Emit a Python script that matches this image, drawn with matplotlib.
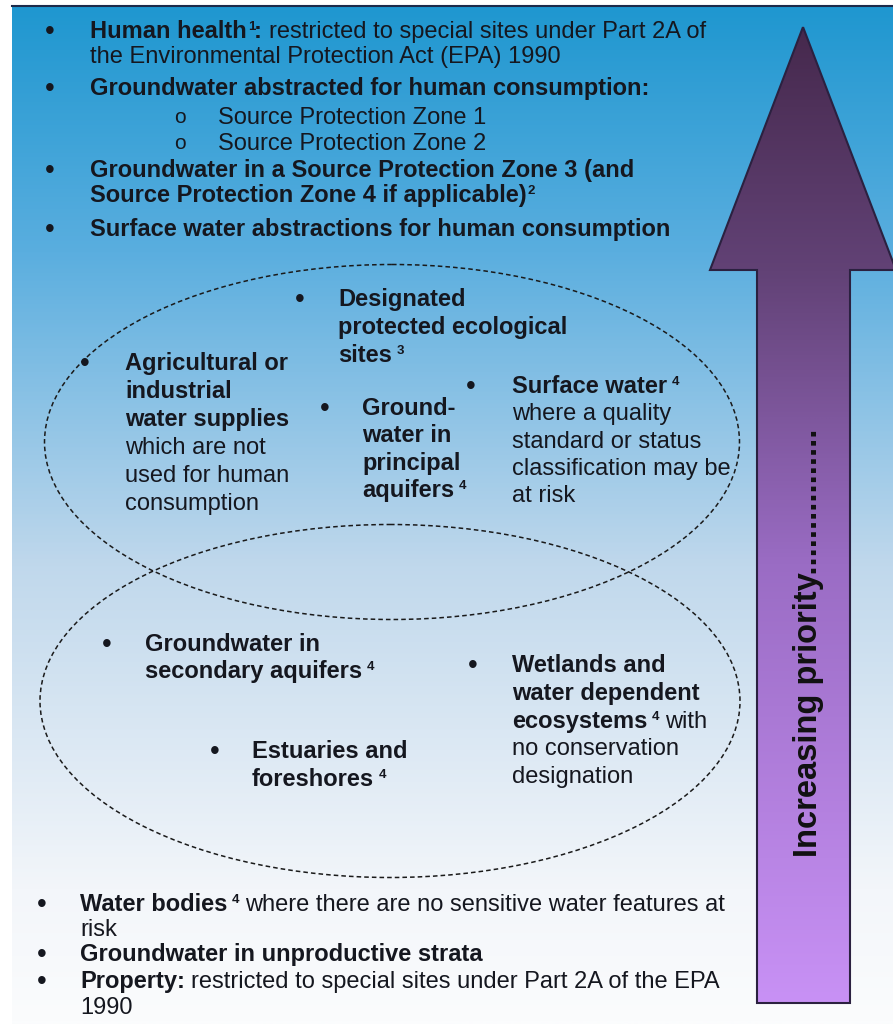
import matplotlib
matplotlib.use("Agg")
import matplotlib.pyplot as plt
import numpy as np
from matplotlib.patches import Ellipse, Polygon, Rectangle
from matplotlib.colors import LinearSegmentedColormap

plt.rcParams['font.family'] = ['Liberation Sans', 'DejaVu Sans']

# text runs: b = bold, r = regular, s = superscript
top_lines = [
    [("Human health", "b"), ("1", "s"), (":", "b"), (" restricted to special sites under Part 2A of", "r")],
    [("the Environmental Protection Act (EPA) 1990", "r")],
    [("Groundwater abstracted for human consumption:", "b")],
    [("Source Protection Zone 1", "r")],
    [("Source Protection Zone 2", "r")],
    [("Groundwater in a Source Protection Zone 3 (and", "b")],
    [("Source Protection Zone 4 if applicable)", "b"), ("2", "s")],
    [("Surface water abstractions for human consumption", "b")],
]
top_marks = ["•", None, "•", "o", "o", "•", None, "•"]

designated = [[("Designated", "b")], [("protected ecological", "b")], [("sites", "b"), (" 3", "s")]]
agricultural = [[("Agricultural or", "b")], [("industrial", "b")], [("water supplies", "b")],
                [("which are not", "r")], [("used for human", "r")], [("consumption", "r")]]
principal = [[("Ground-", "b")], [("water in", "b")], [("principal", "b")], [("aquifers", "b"), (" 4", "s")]]
surface = [[("Surface water", "b"), (" 4", "s")], [("where a quality", "r")], [("standard or status", "r")],
           [("classification may be", "r")], [("at risk", "r")]]

secondary = [[("Groundwater in", "b")], [("secondary aquifers", "b"), (" 4", "s")]]
wetlands = [[("Wetlands and", "b")], [("water dependent", "b")],
            [("ecosystems", "b"), (" 4", "s"), (" with", "r")],
            [("no conservation", "r")], [("designation", "r")]]
estuaries = [[("Estuaries and", "b")], [("foreshores", "b"), (" 4", "s")]]

bottom_lines = [
    [("Water bodies", "b"), (" 4", "s"), (" where there are no sensitive water features at", "r")],
    [("risk", "r")],
    [("Groundwater in unproductive strata", "b")],
    [("Property:", "b"), (" restricted to special sites under Part 2A of the EPA", "r")],
    [("1990", "r")],
]
bottom_marks = ["•", None, "•", "•", None]

arrow_label = "Increasing priority................"

W, H = 893, 1024
fig = plt.figure(figsize=(W / 100, H / 100), dpi=100)
ax = fig.add_axes([0, 0, 1, 1])
ax.set_xlim(0, W)
ax.set_ylim(H, 0)
ax.axis("off")
renderer = fig.canvas.get_renderer()

TXT = "#15171f"
FS = 17
SUP = 9.5
BUL = 20

# background gradient
bg = LinearSegmentedColormap.from_list("bg", [(0, "#1f97d0"), (0.24, "#5aaedf"), (0.55, "#c0d8ec"),
                                              (0.87, "#f3f6fa"), (1, "#fbfcfd")])
grad = np.linspace(0, 1, 512).reshape(-1, 1)
ax.imshow(grad, cmap=bg, extent=[12, W, H, 6], aspect="auto", zorder=0)
ax.plot([12, W], [5.5, 5.5], color="#1c2a4a", lw=1.5, zorder=1)

# arrow
arrow_pts = [(803, 27), (896, 270), (850, 270), (850, 1003), (757, 1003), (757, 270), (710, 270)]
arrow = Polygon(arrow_pts, closed=True, facecolor="none", edgecolor="#2b2140", lw=1.5, zorder=3)
ax.add_patch(arrow)
ac = LinearSegmentedColormap.from_list("ar", [(0, "#46294d"), (0.25, "#624276"), (0.55, "#9a6cc4"),
                                              (1, "#c891f5")])
im = ax.imshow(grad, cmap=ac, extent=[700, 900, 1003, 27], aspect="auto", zorder=2)
im.set_clip_path(Polygon(arrow_pts, closed=True, transform=ax.transData))
ax.text(809, 857, arrow_label, rotation=90, rotation_mode="anchor", ha="left", va="center",
        fontsize=23.5, fontweight="bold", color="#111111", zorder=4)

# dashed ellipses
for cx, cy, ew, eh in [(392, 442, 695, 355), (390, 701, 700, 353)]:
    ax.add_patch(Ellipse((cx, cy), ew, eh, fill=False, edgecolor="#1a1a1a", lw=1.1,
                         linestyle=(0, (3, 2)), zorder=2))


def space_w(size):
    return 0.278 * size * 100 / 72


def bullet(x, y):
    ax.text(x, y + 1, "•", fontsize=BUL, color=TXT, ha="center", va="baseline", zorder=5)


def draw_runs(x, y, runs, size=FS, clip=None):
    for txt, style in runs:
        fs = SUP if style == "s" else size
        n = len(txt) - len(txt.lstrip(" "))
        x += n * space_w(fs)
        txt = txt.strip(" ")
        if style == "s":
            t = ax.text(x + 1, y - 8, txt, fontsize=fs, fontweight="bold", color=TXT,
                        va="baseline", ha="left", zorder=5)
        else:
            t = ax.text(x, y, txt, fontsize=fs, fontweight="bold" if style == "b" else "normal",
                        color=TXT, va="baseline", ha="left", zorder=5)
        if clip is not None:
            t.set_clip_path(clip)
        x += t.get_window_extent(renderer).width
    return x


def block(bx, x, y0, lines, step=27.5, clip_last=None):
    bullet(bx, y0)
    for i, runs in enumerate(lines):
        clip = clip_last if i == len(lines) - 1 else None
        draw_runs(x, y0 + i * step, runs, clip=clip)


# top list
top_y = [38, 63, 95, 124, 150, 177, 202, 236]
for runs, mark, y in zip(top_lines, top_marks, top_y):
    if mark == "•":
        bullet(50, y)
        draw_runs(90, y, runs)
    elif mark == "o":
        ax.text(180, y - 1, mark, fontsize=15, color=TXT, ha="center", va="baseline", zorder=5)
        draw_runs(218, y, runs)
    else:
        draw_runs(90, y, runs)

# upper ellipse
block(300, 338, 306, designated, step=28)
block(85, 125, 370, agricultural, step=28)
block(325, 362, 415, principal, step=27.3)
cut = Rectangle((0, 0), W, 501, transform=ax.transData)
block(471, 512, 393, surface, step=27.3, clip_last=cut)

# lower ellipse
block(107, 145, 651, secondary, step=27)
block(473, 512, 672, wetlands, step=27.8)
block(215, 252, 758, estuaries, step=28)

# bottom list
bottom_y = [911, 936, 961, 988, 1014]
for runs, mark, y in zip(bottom_lines, bottom_marks, bottom_y):
    if mark:
        bullet(42, y)
    draw_runs(80, y, runs)

fig.savefig("out.png", dpi=100)
